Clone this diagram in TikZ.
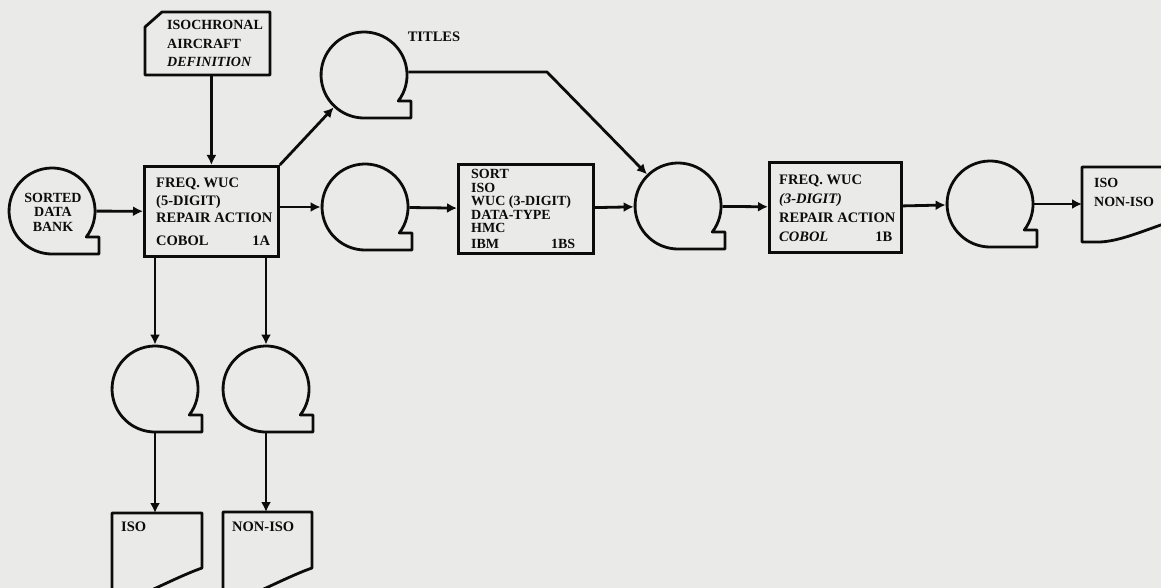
\documentclass[tikz,border=0pt]{standalone}
\usepackage{fontspec}
\setmainfont{Liberation Serif}
\usetikzlibrary{arrows.meta}
\definecolor{paper}{RGB}{234,234,232}
\definecolor{ink}{RGB}{12,12,12}
\tikzset{
  outline/.style={draw=ink, line width=2.8pt, line join=round},
  tapenode/.style={circle, minimum size=86pt, inner sep=0pt, outer sep=1.4pt, draw=none},
  box/.style={rectangle, draw=ink, line width=2.8pt, inner sep=0pt, anchor=north west},
  ghost/.style={rectangle, draw=none, inner sep=0pt, outer sep=0pt, anchor=north west},
  arr/.style={draw=ink, line width=2.8pt, line join=round, -{Latex[length=10pt,width=10pt]}},
  lbl/.style={font=\bfseries\fontsize{14.5}{17.5}\selectfont, align=left, inner sep=0pt, text=ink},
}
\newcommand\tapeat[2]{%
  \node[tapenode] (#1) at (#2) {};
  \draw[outline] ([shift={(34.3,-26)}]#1.center) arc[start angle=-37.2, end angle=270, radius=43]
    -- ([shift={(47,-43)}]#1.center) -- ([shift={(47,-26)}]#1.center) -- cycle;}
\begin{document}
\begin{tikzpicture}[x=1pt, y=1pt]
\useasboundingbox (0,0) rectangle (1161,-588);
\fill[paper] (0,0) rectangle (1161,-588);

% tapes
\tapeat{sdb}{52,-211}
\tapeat{titles}{364,-75}
\tapeat{t2}{365,-207}
\tapeat{t3}{678,-206}
\tapeat{t4}{990,-204}
\tapeat{tA}{155,-389}
\tapeat{tB}{266,-389}

\node[lbl, align=center, font=\bfseries\fontsize{14}{14.5}\selectfont] (sdbtxt) at (53,-212) {SORTED\\DATA\\BANK};
\node[lbl] (titlestxt) at (434,-37) {TITLES};

% isochronal card
\node[ghost, minimum width=125pt, minimum height=63pt] (iso) at (145,-12) {};
\draw[outline] ([yshift=-15pt]iso.north west) -- ([xshift=17pt]iso.north west) -- (iso.north east)
  -- (iso.south east) -- (iso.south west) -- cycle;
\node[lbl, anchor=west, font=\bfseries\fontsize{14}{18.5}\selectfont] (isotxt) at (167,-43.5)
  {ISOCHRONAL\\AIRCRAFT\\\textit{DEFINITION}};

% process boxes
\node[box, minimum width=134pt, minimum height=90pt] (b1a) at (143,-165) {};
\node[lbl, anchor=west] (b1atxt) at (156,-212)
  {FREQ. WUC\\(5-DIGIT)\\REPAIR ACTION\\[5pt]\makebox[114pt][l]{COBOL\hfill 1A}};

\node[box, minimum width=135pt, minimum height=89pt] (b1bs) at (457,-163) {};
\node[lbl, anchor=west, font=\bfseries\fontsize{14}{13.6}\selectfont] (b1bstxt) at (471,-209)
  {SORT\\ISO\\WUC (3-DIGIT)\\DATA-TYPE\\HMC\\[2pt]\makebox[104pt][l]{IBM\hfill 1BS}};

\node[box, minimum width=132pt, minimum height=90pt] (b1b) at (768,-161) {};
\node[lbl, anchor=west, font=\bfseries\fontsize{14.5}{19}\selectfont] (b1btxt) at (779,-208)
  {FREQ. WUC\\\textit{(3-DIGIT)}\\REPAIR ACTION\\\makebox[113pt][l]{\textit{COBOL}\hfill 1B}};

% documents
\node[ghost, minimum width=100pt, minimum height=75pt] (dout) at (1082,-167) {};
\draw[outline] (1175,-167) -- (dout.north west) -- (dout.south west) -- (1100,-242)
  .. controls (1120,-241) and (1140,-232) .. (1175,-220);
\node[lbl, anchor=west, font=\bfseries\fontsize{14}{19}\selectfont] (douttxt) at (1094,-192.5) {ISO\\NON-ISO};

\node[ghost, minimum width=90pt, minimum height=80pt] (dISO) at (112,-513) {};
\draw[outline] (dISO.south west) -- (dISO.north west) -- (dISO.north east) -- (202,-568)
  .. controls (185,-574) and (165,-584) .. (145,-593) -- (dISO.south west);
\node[lbl, anchor=west] (disotxt) at (121,-527) {ISO};

\node[ghost, minimum width=89pt, minimum height=80pt] (dNON) at (223,-512) {};
\draw[outline] (dNON.south west) -- (dNON.north west) -- (dNON.north east) -- (312,-568)
  .. controls (295,-574) and (275,-584) .. (255,-593) -- (dNON.south west);
\node[lbl, anchor=west] (dnontxt) at (232,-527) {NON-ISO};

% connectors
\coordinate (bend) at (547,-72);
\draw[arr] (sdb) -- (b1a);
\draw[arr] (b1a.north |- iso.south) -- (b1a.north);
\draw[arr] (b1a.north east) -- (titles);
\draw[arr] (b1a.east |- t2) -- (t2);
\draw[arr] (t2) -- (b1bs);
\draw[arr] (b1bs) -- (t3);
\draw[arr] (titles.east |- bend) -- (bend) -- (t3);
\draw[arr] (t3) -- (b1b);
\draw[arr] (b1b) -- (t4);
\draw[arr] (t4) -- (dout.west |- t4);
\draw[arr] (tA |- b1a.south) -- (tA);
\draw[arr] (tB |- b1a.south) -- (tB);
\draw[arr] (tA) -- (tA |- dISO.north);
\draw[arr] (tB) -- (tB |- dNON.north);
\end{tikzpicture}
\end{document}
